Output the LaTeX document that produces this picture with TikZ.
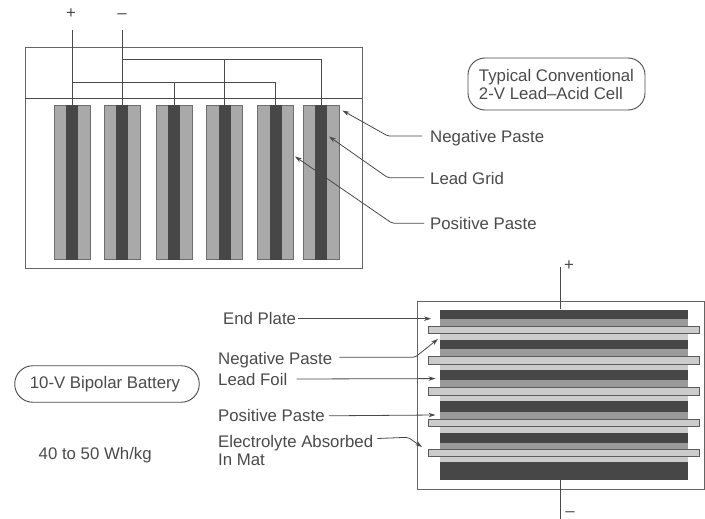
\documentclass[tikz,border=0pt]{standalone}
\usepackage{fontspec}
\setmainfont{Liberation Sans}
\usetikzlibrary{positioning}
\usetikzlibrary{arrows.meta}
\definecolor{inkgray}{HTML}{4A4A4A}
\definecolor{darklayer}{HTML}{474747}
\definecolor{midlayer}{HTML}{9A9A9A}
\definecolor{lightlayer}{HTML}{CCCCCC}
\tikzset{
  lbl/.style={inner sep=0pt, anchor=west, text=inkgray, text height=12pt, text depth=3.5pt,
    font=\fontsize{16.8}{18}\selectfont},
  callout/.style={inkgray, line width=0.8pt, rounded corners=2pt, -{Stealth[length=7pt,width=4.5pt]}},
  wire/.style={inkgray, line width=0.8pt},
  casebox/.style={draw=inkgray!85, line width=0.9pt, inner sep=0pt},
  tagbox/.style={draw=inkgray, line width=0.9pt, text=inkgray, align=left, inner sep=0pt,
    font=\fontsize{16.8}{18}\selectfont},
  paste/.style={draw=inkgray!80, fill=midlayer!85, line width=0.7pt, inner sep=0pt, minimum width=36pt, minimum height=154.5pt},
  leadgrid/.style={fill=darklayer, inner sep=0pt, minimum width=12pt, minimum height=154.5pt},
  layer/.style={inner sep=0pt, minimum width=248pt},
  foil/.style={draw=inkgray!90, fill=lightlayer, line width=0.7pt, inner sep=0pt, minimum width=271pt}
}

\begin{document}
\begin{tikzpicture}[x=1pt, y=-1pt]
    \useasboundingbox (0,0) rectangle (705,519);

    % Conventional cell
    \node[casebox, minimum width=337pt, minimum height=220.5pt] (topcase) at (193.5,157.75) {};
    \coordinate (lidlevel) at (0,98);
    \draw[wire] (topcase.west |- lidlevel) -- (topcase.east |- lidlevel);
    \foreach \n/\cx in {1/72, 2/122, 3/174, 4/224.5, 5/275.5, 6/321} {
      \node[paste] (paste\n) at (\cx,182.25) {};
      \node[leadgrid] (grid\n) at (\cx,182.25) {};
    }

    \node[lbl, anchor=center] (plus) at (71,14) {+};
    \node[lbl, anchor=center] (minus) at (122,14) {--};
    \coordinate (plustop) at (grid1.north |- 0,30);
    \coordinate (minustop) at (grid2.north |- 0,30);
    \coordinate (posbus) at (0,82);
    \coordinate (negbus) at (0,59.5);

    % Connect the plates
    \draw[wire] (plustop) -- (grid1.north);
    \draw[wire] (minustop) -- (grid2.north);
    \draw[wire] (grid1.north |- posbus) -- (grid5.north |- posbus) -- (grid5.north);
    \draw[wire] (grid3.north |- posbus) -- (grid3.north);
    \draw[wire] (grid2.north |- negbus) -- (grid6.north |- negbus) -- (grid6.north);
    \draw[wire] (grid4.north |- negbus) -- (grid4.north);

    \node[tagbox, rounded corners=17pt, minimum width=177pt, minimum height=52pt] (celltag) at (556.5,84) {Typical Conventional\\2-V Lead--Acid Cell};

    \node[lbl] (topneg) at (430,138.6) {Negative Paste};
    \node[lbl, below=25.8pt of topneg.south west, anchor=north west] (topgrid) {Lead Grid};
    \node[lbl, below=29.5pt of topgrid.south west, anchor=north west] (toppos) {Positive Paste};
    \coordinate (negtip) at (342.5,110.5);
    \coordinate (gridtip) at (329,136.5);
    \coordinate (postip) at (295,156.5);
    \draw[callout] ([shift={(-8pt,2.5pt)}]topneg.west) -- ([shift={(-42pt,2.5pt)}]topneg.west) -- (negtip);
    \draw[callout] ([shift={(-6pt,2.5pt)}]topgrid.west) -- ([shift={(-42pt,2.5pt)}]topgrid.west) -- (gridtip);
    \draw[callout] ([shift={(-6pt,2.5pt)}]toppos.west) -- ([shift={(-38pt,2.5pt)}]toppos.west) -- (postip);

    % Bipolar battery
    \node[casebox, minimum width=286.5pt, minimum height=187.5pt] (botcase) at (560.75,395.5) {};
    \foreach \n/\ya/\yb/\yc/\yd/\ye in {1/309.5/319/326/333/339.5, 2/339.5/349/356/364/369.5,
        3/369.5/380/387/395/401, 4/401/412/419/426/432.5, 5/432.5/443/449/456/462} {
      \node[layer, fill=darklayer, minimum height={(\yb-\ya)*1pt}] (dark\n) at (564,{(\ya+\yb)/2}) {};
      \node[layer, fill=midlayer, minimum height={(\yc-\yb)*1pt}] (mid\n) at (564,{(\yb+\yc)/2}) {};
      \node[layer, fill=lightlayer, minimum height={(\ye-\yd)*1pt}] (light\n) at (564,{(\yd+\ye)/2}) {};
      \node[foil, minimum height={(\yd-\yc)*1pt}] (foil\n) at (564,{(\yc+\yd)/2}) {};
    }
    \node[layer, fill=darklayer, minimum height=18pt] (endplate) at (564,471) {};

    \node[lbl, anchor=center] (botplus) at (569,266) {+};
    \node[lbl, anchor=center, text height=3pt, text depth=0pt] (botminus) at (570,515) {--};
    \coordinate (bptop) at (560,267);
    \coordinate (bmbot) at (560,519);
    \draw[wire] (bptop) -- (bptop |- dark1.north);
    \draw[wire] (endplate.south -| bmbot) -- (bmbot);

    \node[lbl] (endlbl) at (223,319.9) {End Plate};
    \node[lbl] (botneg) at (218,360.3) {Negative Paste};
    \node[lbl, below=4.8pt of botneg.south west, anchor=north west] (foillbl) {Lead Foil};
    \node[lbl, below=20.5pt of foillbl.south west, anchor=north west] (botpos) {Positive Paste};
    \node[lbl, below=9.5pt of botpos.south west, anchor=north west] (matlbl) {Electrolyte Absorbed};
    \node[lbl, below=2.2pt of matlbl.south west, anchor=north west] (matlbl2) {In Mat};
    \coordinate (endtip) at (431,318.7);
    \coordinate (bnegtip) at (438,339);
    \coordinate (foiltip) at (435.5,378.6);
    \coordinate (bpostip) at (435.5,415);
    \coordinate (mattip) at (422,447);
    \draw[callout] ([shift={(2pt,1.2pt)}]endlbl.east) -- (endtip);
    \draw[callout] ([shift={(7pt,3pt)}]botneg.east) -- (415,357.3) -- (bnegtip);
    \draw[callout] ([shift={(9pt,2pt)}]foillbl.east) -- (foiltip);
    \draw[callout] ([shift={(4pt,1.6pt)}]botpos.east) -- (bpostip);
    \draw[callout] ([shift={(4pt,4.3pt)}]matlbl.east) -- (408,437.3) -- (mattip);

    \node[tagbox, rounded corners=18pt, minimum width=184.5pt, minimum height=36.5pt] (battag) at (107,384) {10-V Bipolar Battery\kern4pt};
    \node[lbl] (energy) at (38.5,455.6) {40 to 50 Wh/kg};
\end{tikzpicture}
\end{document}
